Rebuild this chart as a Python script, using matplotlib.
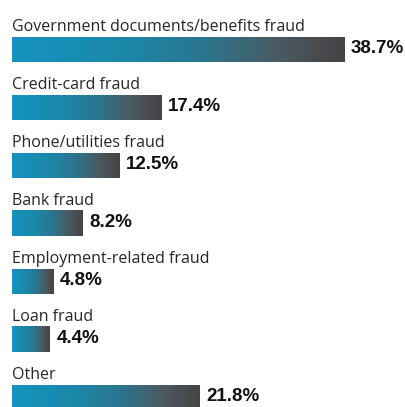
import matplotlib.pyplot as plt
import numpy as np
from matplotlib.colors import LinearSegmentedColormap

categories = ["Government documents/benefits fraud", "Credit-card fraud",
              "Phone/utilities fraud", "Bank fraud", "Employment-related fraud",
              "Loan fraud", "Other"]
values = [38.7, 17.4, 12.5, 8.2, 4.8, 4.4, 21.8]
value_labels = ["38.7%", "17.4%", "12.5%", "8.2%", "4.8%", "4.4%", "21.8%"]

W, H = 405, 407
px_per_pct = 8.58
x0_px = 12
row_px = 58.0
row0_px = 49.5
bar_px = 25

fig = plt.figure(figsize=(W / 100, H / 100), dpi=100)
ax = fig.add_axes([0, 0, 1, 1])

# blue -> dark gray gradient along every bar
cmap = LinearSegmentedColormap.from_list(
    "bar", [(0, "#1593c0"), (0.33, "#1b88a9"), (0.57, "#2b7690"),
            (0.81, "#4a5960"), (1, "#474243")])
grad = np.linspace(0, 1, 256).reshape(1, -1)

h = bar_px / row_px
label_font = ["Open Sans", "DejaVu Sans"]
value_font = ["Liberation Sans", "DejaVu Sans"]

for i, (cat, v, lab) in enumerate(zip(categories, values, value_labels)):
    ax.imshow(grad, cmap=cmap, extent=[0, v, i + h / 2, i - h / 2],
              aspect="auto", interpolation="bilinear", zorder=2)
    ax.text(0, i - h / 2 - 6 / row_px, cat, ha="left", va="baseline",
            fontsize=11.5, family=label_font, color="#262626")
    ax.text(v + 7 / px_per_pct, i + 3.5 / row_px, lab, ha="left", va="baseline",
            fontsize=13.5, fontweight="bold", family=value_font, color="#111111")

ax.set_xlim(-x0_px / px_per_pct, (W - x0_px) / px_per_pct)
ax.set_ylim((H - row0_px) / row_px, -row0_px / row_px)
ax.axis("off")

fig.savefig("out.png", dpi=100)
